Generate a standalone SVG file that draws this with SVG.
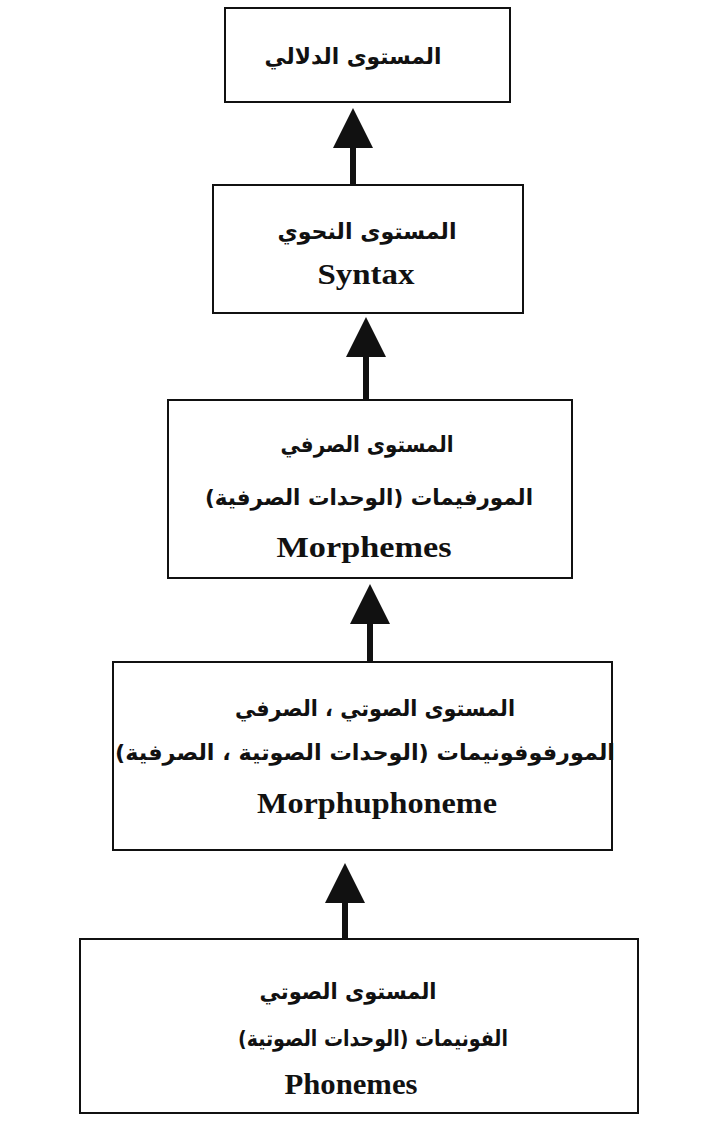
<svg xmlns="http://www.w3.org/2000/svg" width="711" height="1129" viewBox="0 0 711 1129">
<style>
.box{fill:#fff;stroke:#111;stroke-width:2}
.ar{font-family:"DejaVu Sans",sans-serif;font-weight:bold;font-size:22px;fill:#111;text-anchor:middle}
.en{font-family:"Liberation Serif",serif;font-weight:bold;font-size:30px;fill:#111;text-anchor:middle}
.conn{stroke:#111;stroke-width:6;fill:none}
</style>
<defs>
<marker id="ah" markerUnits="userSpaceOnUse" markerWidth="40" markerHeight="42" refX="0" refY="20" orient="auto" viewBox="0 0 40 40">
<path d="M0,0 L40,20 L0,40 Z" fill="#111"/>
</marker>
</defs>
<rect width="711" height="1129" fill="#fff"/>
<g id="connectors">
<line class="conn" x1="353" y1="184" x2="353" y2="148" marker-end="url(#ah)"/>
<line class="conn" x1="366" y1="399" x2="366" y2="357" marker-end="url(#ah)"/>
<line class="conn" x1="370" y1="661" x2="370" y2="624" marker-end="url(#ah)"/>
<line class="conn" x1="345" y1="938" x2="345" y2="903" marker-end="url(#ah)"/>
</g>
<g id="semantic">
<rect class="box" x="225" y="8" width="285" height="94"/>
<text class="ar" x="353" y="64" direction="rtl" textLength="177" lengthAdjust="spacingAndGlyphs">المستوى الدلالي</text>
</g>
<g id="syntax">
<rect class="box" x="213" y="185" width="310" height="128"/>
<text class="ar" x="367" y="239" direction="rtl" textLength="179" lengthAdjust="spacingAndGlyphs">المستوى النحوي</text>
<text class="en" x="366" y="284" textLength="97" lengthAdjust="spacingAndGlyphs">Syntax</text>
</g>
<g id="morphemes">
<rect class="box" x="168" y="400" width="404" height="178"/>
<text class="ar" x="367" y="452" direction="rtl" textLength="173" lengthAdjust="spacingAndGlyphs">المستوى الصرفي</text>
<text class="ar" x="369" y="505" direction="rtl" textLength="328" lengthAdjust="spacingAndGlyphs">المورفيمات (الوحدات الصرفية)</text>
<text class="en" x="364" y="557" textLength="175" lengthAdjust="spacingAndGlyphs">Morphemes</text>
</g>
<g id="morphophoneme">
<rect class="box" x="113" y="662" width="499" height="188"/>
<text class="ar" x="375" y="716" direction="rtl" textLength="280" lengthAdjust="spacingAndGlyphs">المستوى الصوتي ، الصرفي</text>
<text class="ar" x="365" y="760" direction="rtl" textLength="500" lengthAdjust="spacingAndGlyphs">المورفوفونيمات (الوحدات الصوتية ، الصرفية)</text>
<text class="en" x="377" y="813" textLength="240" lengthAdjust="spacingAndGlyphs">Morphuphoneme</text>
</g>
<g id="phonemes">
<rect class="box" x="80" y="939" width="558" height="174"/>
<text class="ar" x="348" y="999" direction="rtl" textLength="177" lengthAdjust="spacingAndGlyphs">المستوى الصوتي</text>
<text class="ar" x="373" y="1046" direction="rtl" textLength="270" lengthAdjust="spacingAndGlyphs">الفونيمات (الوحدات الصوتية)</text>
<text class="en" x="351" y="1094" textLength="133" lengthAdjust="spacingAndGlyphs">Phonemes</text>
</g>
</svg>
